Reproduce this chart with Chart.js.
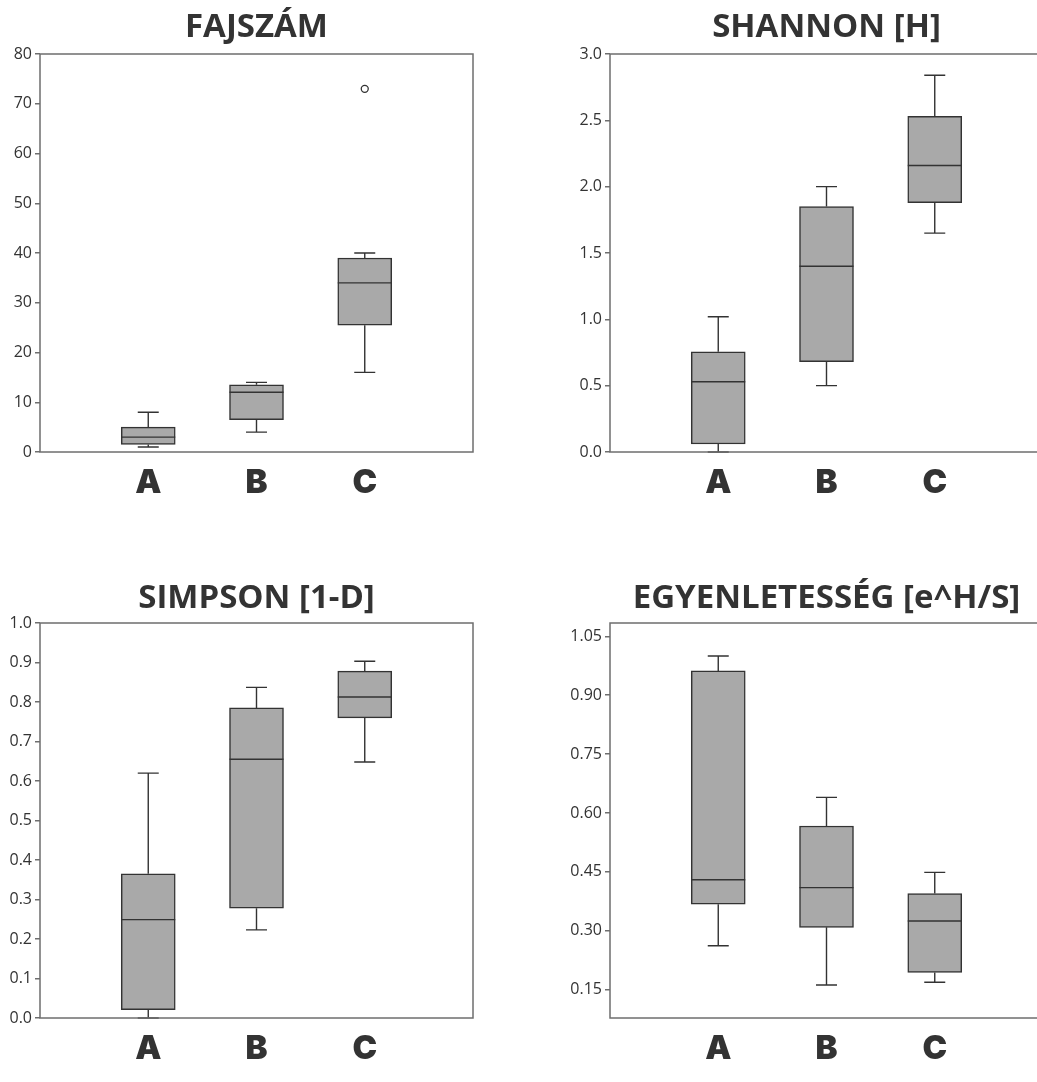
<!DOCTYPE html>
<html>
<head>
<meta charset="utf-8">
<script src="https://cdn.jsdelivr.net/npm/chart.js@4.4.1/dist/chart.umd.min.js"></script>
<style>
  html, body { margin: 0; padding: 0; background: #fff; overflow: hidden; width: 1037px; height: 1082px; }
  .panel { position: absolute; overflow: hidden; }
</style>
</head>
<body>
<div class="panel" style="left:0;top:0;width:517px;height:540px"><canvas id="c1" width="517" height="540"></canvas></div>
<div class="panel" style="left:517px;top:0;width:520px;height:540px"><canvas id="c2" width="540" height="540"></canvas></div>
<div class="panel" style="left:0;top:540px;width:517px;height:542px"><canvas id="c3" width="517" height="542"></canvas></div>
<div class="panel" style="left:517px;top:540px;width:520px;height:542px"><canvas id="c4" width="540" height="542"></canvas></div>
<script>
// ─────────────────────────────────────────
// DATA
// ─────────────────────────────────────────

const groups = ["A", "B", "C"];

// FAJSZÁM
const fajMin = [1, 4, 16];
const fajQ1  = [1.5, 6.5, 25.5];
const fajMed = [3, 12, 34];
const fajQ3  = [5, 13.5, 39];
const fajMax = [8, 14, 40];
const fajOut = [null, null, 73];
const fajTicks = [0, 10, 20, 30, 40, 50, 60, 70, 80];

// SHANNON [H]
const shaMin = [0, 0.5, 1.65];
const shaQ1  = [0.06, 0.68, 1.88];
const shaMed = [0.53, 1.40, 2.16];
const shaQ3  = [0.755, 1.85, 2.53];
const shaMax = [1.02, 2.0, 2.84];
const shaOut = [null, null, null];
const shaTicks = [0, 0.5, 1.0, 1.5, 2.0, 2.5, 3.0];

// SIMPSON [1-D]
const simMin = [0, 0.223, 0.648];
const simQ1  = [0.021, 0.278, 0.760];
const simMed = [0.249, 0.655, 0.8125];
const simQ3  = [0.365, 0.785, 0.878];
const simMax = [0.62, 0.837, 0.903];
const simOut = [null, null, null];
const simTicks = [0, 0.1, 0.2, 0.3, 0.4, 0.5, 0.6, 0.7, 0.8, 0.9, 1.0];

// EGYENLETESSÉG [e^H/S]
const egyMin = [0.262, 0.162, 0.169];
const egyQ1  = [0.368, 0.309, 0.194];
const egyMed = [0.430, 0.410, 0.325];
const egyQ3  = [0.962, 0.567, 0.395];
const egyMax = [1.0, 0.640, 0.449];
const egyOut = [null, null, null];
const egyTicks = [0.15, 0.30, 0.45, 0.60, 0.75, 0.90, 1.05];

// ─────────────────────────────────────────
// BOXPLOT HELPERS
// ─────────────────────────────────────────

const INK = "#333333";

const framePlugin = {
  id: "frame",
  afterDraw(chart) {
    const { ctx, chartArea: a } = chart;
    ctx.save();
    ctx.strokeStyle = "#6e6e6e";
    ctx.lineWidth = 1.5;
    ctx.strokeRect(a.left, a.top, a.right - a.left, a.bottom - a.top);
    ctx.restore();
  }
};

const whiskerPlugin = {
  id: "whiskers",
  afterDatasetsDraw(chart, args, opts) {
    const { ctx } = chart;
    const xs = chart.scales.x, ys = chart.scales.y;
    const cap = 10.5, half = 27;
    ctx.save();
    ctx.strokeStyle = INK;
    ctx.lineWidth = 1.4;
    opts.med.forEach((m, i) => {
      const x = xs.getPixelForValue(i + 1);
      const yMin = ys.getPixelForValue(opts.min[i]);
      const yQ1  = ys.getPixelForValue(opts.q1[i]);
      const yQ3  = ys.getPixelForValue(opts.q3[i]);
      const yMax = ys.getPixelForValue(opts.max[i]);
      const yMed = ys.getPixelForValue(m);
      ctx.beginPath();
      ctx.moveTo(x, yQ1); ctx.lineTo(x, yMin);
      ctx.moveTo(x - cap, yMin); ctx.lineTo(x + cap, yMin);
      ctx.moveTo(x, yQ3); ctx.lineTo(x, yMax);
      ctx.moveTo(x - cap, yMax); ctx.lineTo(x + cap, yMax);
      ctx.moveTo(x - half, yMed); ctx.lineTo(x + half, yMed);
      ctx.stroke();
    });
    ctx.restore();
  }
};

function drawBox(id, p) {
  const labels = [""].concat(groups, [""]);
  new Chart(document.getElementById(id), {
    data: {
      labels: labels,
      datasets: [{
        type: "bar",
        data: [null].concat(groups.map((g, i) => [p.q1[i], p.q3[i]]), [null]),
        backgroundColor: "#a9a9a9",
        borderColor: INK,
        borderWidth: 1.5,
        borderSkipped: false,
        barThickness: 54
      }, {
        type: "line",
        data: [null].concat(p.out, [null]),
        showLine: false,
        pointRadius: 3.5,
        pointBorderWidth: 1.3,
        pointBorderColor: INK,
        pointBackgroundColor: "#ffffff"
      }]
    },
    options: {
      responsive: false,
      animation: false,
      devicePixelRatio: 1,
      layout: { padding: { left: 0, right: p.padRight, top: 0, bottom: 0 } },
      plugins: {
        legend: { display: false },
        tooltip: { enabled: false },
        title: {
          display: true,
          text: p.title,
          fullSize: false,
          color: INK,
          font: { family: "'Open Sans', sans-serif", weight: "bold", size: 33 },
          padding: { top: p.titleTop, bottom: p.titleBottom }
        },
        whiskers: { min: p.min, q1: p.q1, med: p.med, q3: p.q3, max: p.max }
      },
      scales: {
        x: {
          type: "category",
          offset: false,
          grid: { display: false },
          border: { display: false },
          ticks: {
            autoSkip: false, maxRotation: 0, color: INK, padding: 3,
            font: { family: "Inter, Roboto, sans-serif", weight: "900", size: 33 }
          },
          afterFit: s => { s.height = p.xHeight; }
        },
        y: {
          min: p.yMin,
          max: p.yMax,
          afterBuildTicks: s => { s.ticks = p.ticks.map(v => ({ value: v })); },
          grid: { drawOnChartArea: false, drawTicks: true, tickLength: 5, color: "#6e6e6e", lineWidth: 1.5 },
          border: { display: false },
          ticks: {
            color: INK, padding: 3,
            font: { family: "'Open Sans', sans-serif", size: 16 },
            callback: v => v.toFixed(p.dec)
          },
          afterFit: s => { s.width = p.yWidth; }
        }
      }
    },
    plugins: [whiskerPlugin, framePlugin]
  });
}

// ─────────────────────────────────────────
// PANELS
// ─────────────────────────────────────────

drawBox("c1", {
  title: "FAJSZÁM", min: fajMin, q1: fajQ1, med: fajMed, q3: fajQ3, max: fajMax, out: fajOut,
  ticks: fajTicks, yMin: 0, yMax: 80, dec: 0,
  yWidth: 40, padRight: 44, titleTop: 8, titleBottom: 6.4, xHeight: 88
});

drawBox("c2", {
  title: "SHANNON [H]", min: shaMin, q1: shaQ1, med: shaMed, q3: shaQ3, max: shaMax, out: shaOut,
  ticks: shaTicks, yMin: 0, yMax: 3, dec: 1,
  yWidth: 93, padRight: 14, titleTop: 8, titleBottom: 6.4, xHeight: 88
});

drawBox("c3", {
  title: "SIMPSON [1-D]", min: simMin, q1: simQ1, med: simMed, q3: simQ3, max: simMax, out: simOut,
  ticks: simTicks, yMin: 0, yMax: 1, dec: 1,
  yWidth: 40, padRight: 44, titleTop: 38.5, titleBottom: 4.9, xHeight: 64
});

drawBox("c4", {
  title: "EGYENLETESSÉG [e^H/S]", min: egyMin, q1: egyQ1, med: egyMed, q3: egyQ3, max: egyMax, out: egyOut,
  ticks: egyTicks, yMin: 0.078, yMax: 1.084, dec: 2,
  yWidth: 93, padRight: 14, titleTop: 38.5, titleBottom: 4.9, xHeight: 64
});
</script>
</body>
</html>
